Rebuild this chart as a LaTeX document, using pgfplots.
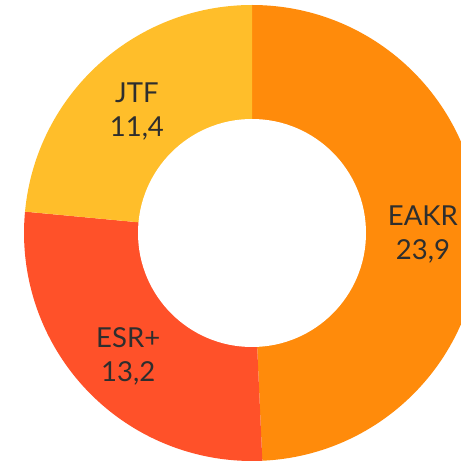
\documentclass[border=0pt]{standalone}
\usepackage{pgfplots}
\usepackage{pgfplotstable}
\pgfplotsset{compat=1.18}
\usepackage{fontspec}
\setmainfont{Lato}
\definecolor{cEAKR}{HTML}{FF8B0B}
\definecolor{cESR}{HTML}{FF5129}
\definecolor{cJTF}{HTML}{FFBE2A}
\definecolor{txt}{HTML}{2E2E2E}
\pgfplotstableread{
label value
EAKR 23.9
ESR+ 13.2
JTF 11.4
}\data
\begin{document}
\begin{tikzpicture}
\pgfplotstablegetelem{0}{value}\of\data \let\va\pgfplotsretval
\pgfplotstablegetelem{1}{value}\of\data \let\vb\pgfplotsretval
\pgfplotstablegetelem{2}{value}\of\data \let\vc\pgfplotsretval
\pgfmathsetmacro{\tot}{\va+\vb+\vc}
\pgfmathsetmacro{\aA}{90}
\pgfmathsetmacro{\aB}{90-360*\va/\tot}
\pgfmathsetmacro{\aC}{\aB-360*\vb/\tot}
\pgfmathsetmacro{\aD}{\aC-360*\vc/\tot}
\pgfmathsetmacro{\mA}{(\aA+\aB)/2}
\pgfmathsetmacro{\mB}{(\aB+\aC)/2}
\pgfmathsetmacro{\mC}{(\aC+\aD)/2}
\begin{axis}[
  width=461pt, height=461pt, scale only axis,
  xmin=-252, xmax=209, ymin=-228, ymax=233,
  hide axis, clip=true, clip bounding box=upper bound,
]
\addplot[draw=none] coordinates {(0,0)};
\fill[cEAKR] (axis cs:0,0) -- ++(\aA:228pt) arc[start angle=\aA, end angle=\aB, radius=228pt] -- cycle;
\fill[cESR] (axis cs:0,0) -- ++(\aB:228pt) arc[start angle=\aB, end angle=\aC, radius=228pt] -- cycle;
\fill[cJTF] (axis cs:0,0) -- ++(\aC:228pt) arc[start angle=\aC, end angle=\aD, radius=228pt] -- cycle;
\fill[white] (axis cs:0,0) circle[radius=114pt];
\tikzset{lbl/.style={align=center, text=txt, font=\fontsize{27.5}{34}\selectfont, inner sep=0pt, yshift=-5pt}}
\node[lbl] at ([shift={(\mA:171pt)}]axis cs:0,0) {EAKR\\\pgfmathprintnumber[use comma,fixed,fixed zerofill,precision=1,assume math mode=true]{\va}};
\node[lbl] at ([shift={(\mB:171pt)}]axis cs:0,0) {ESR+\\\pgfmathprintnumber[use comma,fixed,fixed zerofill,precision=1,assume math mode=true]{\vb}};
\node[lbl] at ([shift={(\mC:171pt)}]axis cs:0,0) {JTF\\\pgfmathprintnumber[use comma,fixed,fixed zerofill,precision=1,assume math mode=true]{\vc}};
\end{axis}
\pgfresetboundingbox
\path[use as bounding box] (current axis.south west) rectangle (current axis.north east);
\end{tikzpicture}
\end{document}
